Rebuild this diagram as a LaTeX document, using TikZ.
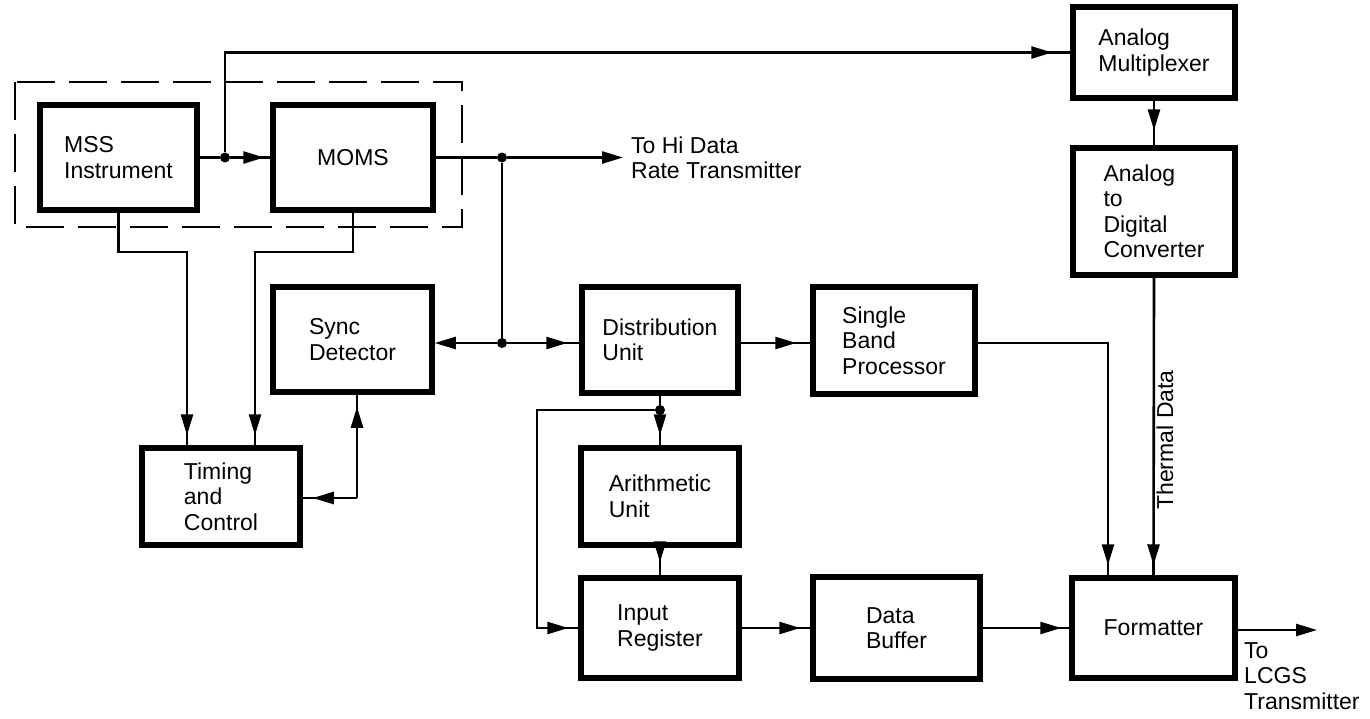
\documentclass[tikz,border=0pt]{standalone}
\usepackage{fontspec}
\setmainfont{Liberation Sans}
\usetikzlibrary{arrows.meta,decorations.markings}
\begin{document}
\begin{tikzpicture}[x=1pt,y=-1pt,
  box/.style={draw, line width=5.5pt, align=left, inner sep=0pt,
    font=\fontsize{23}{25.5}\selectfont},
  lbl/.style={align=left, inner sep=0pt, font=\fontsize{23}{25.5}\selectfont},
  conn/.style={line width=2.6pt},
  tip/.style={-{Triangle[length=21pt,width=12pt]}},
  arr/.style={postaction={decorate}, decoration={markings,
    mark=at position #1 with {\arrow{Triangle[length=21pt,width=12pt]}}}},
  arr/.default=-10pt,
  dot/.style={circle, fill, inner sep=0pt, minimum size=10pt},
  dashbox/.style={line width=2.6pt, dash pattern=on 38pt off 14pt}]
\useasboundingbox (0,0) rectangle (1370,718);

% boxes
\node[box, minimum width=157pt, minimum height=105pt] (mss) at (118.5,157.5) {MSS\\Instrument};
\node[box, minimum width=160pt, minimum height=105pt] (moms) at (353,157.5) {MOMS};
\node[box, minimum width=159pt, minimum height=105pt] (sync) at (352.5,339.5) {Sync\\Detector};
\node[box, minimum width=158pt, minimum height=97pt] (timing) at (221,496.5) {Timing\\and\\Control};
\node[box, minimum width=156pt, minimum height=106pt] (dist) at (660,340) {Distribution\\Unit};
\node[box, minimum width=162pt, minimum height=107pt] (sbp) at (894,340.5) {Single\\Band\\Processor};
\node[box, minimum width=158pt, minimum height=97pt] (arith) at (660,496.5) {Arithmetic\\Unit};
\node[box, minimum width=158pt, minimum height=100pt] (inreg) at (660,628) {Input\\Register};
\node[box, minimum width=167pt, minimum height=102pt] (dbuf) at (896.5,628) {Data\\Buffer};
\node[box, minimum width=163pt, minimum height=100pt] (fmt) at (1153.5,628) {Formatter};
\node[box, minimum width=162pt, minimum height=91pt] (mux) at (1154,52.5) {Analog\\Multiplexer};
\node[box, minimum width=162pt, minimum height=127pt] (adc) at (1154,211.5) {Analog\\to\\Digital\\Converter};

% dashed group
\draw[dashbox] (15,82) rectangle (462,227);

% junctions and bend points
\node[dot] (j1) at (225,157.5) {};
\node[dot] (j3) at (502,157.5) {};
\node[dot] (j2) at (502,343) {};
\node[dot] (j4) at (660,410) {};
\coordinate (top) at (225,52.5);
\coordinate (b1) at (187,252);
\coordinate (b2) at (255,252);
\coordinate (c5) at (357,498);
\coordinate (l4) at (537,410);
\coordinate (s1) at (1108,343);
\coordinate (hi) at (623,157.5);
\coordinate (lcgs) at (1317,630);

% connectors
\draw[conn] (mss.east) -- (j1);
\draw[conn, arr=-6pt] (j1) -- (moms.west);
\draw[conn, arr=-18pt] (j1) -- (top) -- (mux.west);
\draw[conn] (moms.east) -- (j3);
\draw[conn, tip] (j3) -- (hi);
\draw[conn] (j3) -- (j2);
\draw[conn, tip] (j2) -- (j2 -| sync.east);
\draw[conn, arr=-12pt] (j2) -- (j2 -| dist.west);
\draw[conn, arr] (mss.south) |- (b1) -- (b1 |- timing.north);
\draw[conn, arr] (moms.south) |- (b2) -- (b2 |- timing.north);
\draw[conn, arr=-12pt] (c5) -- (c5 |- sync.south);
\draw[conn, arr] (c5) -- (c5 -| timing.east);
\draw[conn, arr=-14pt] (dist.east |- j2) -- (sbp.west |- j2);
\draw[conn] (dist.south) -- (j4);
\draw[conn, arr] (j4) -- (arith.north);
\draw[conn, arr] (j4) -- (l4) |- (inreg.west);
\draw[conn, arr=-13pt] (arith.south) -- (inreg.north);
\draw[conn, arr] (inreg.east) -- (dbuf.west);
\draw[conn, arr=-8pt] (dbuf.east) -- (fmt.west);
\draw[conn, arr] (sbp.east |- s1) -- (s1) -- (s1 |- fmt.north);
\draw[conn, arr=-15pt] (mux.south) -- (adc.north);
\draw[conn, arr] (adc.south) -- (fmt.north);
\draw[conn, tip] (fmt.east |- lcgs) -- (lcgs);

% labels
\node[lbl, anchor=west] (hilbl) at (631,158) {To Hi Data\\Rate Transmitter};
\node[lbl, anchor=north west] (lcgslbl) at (1244,642) {To\\LCGS\\Transmitter};
\node[lbl, rotate=90] (thermal) at (1165,440) {Thermal Data};
\end{tikzpicture}
\end{document}
